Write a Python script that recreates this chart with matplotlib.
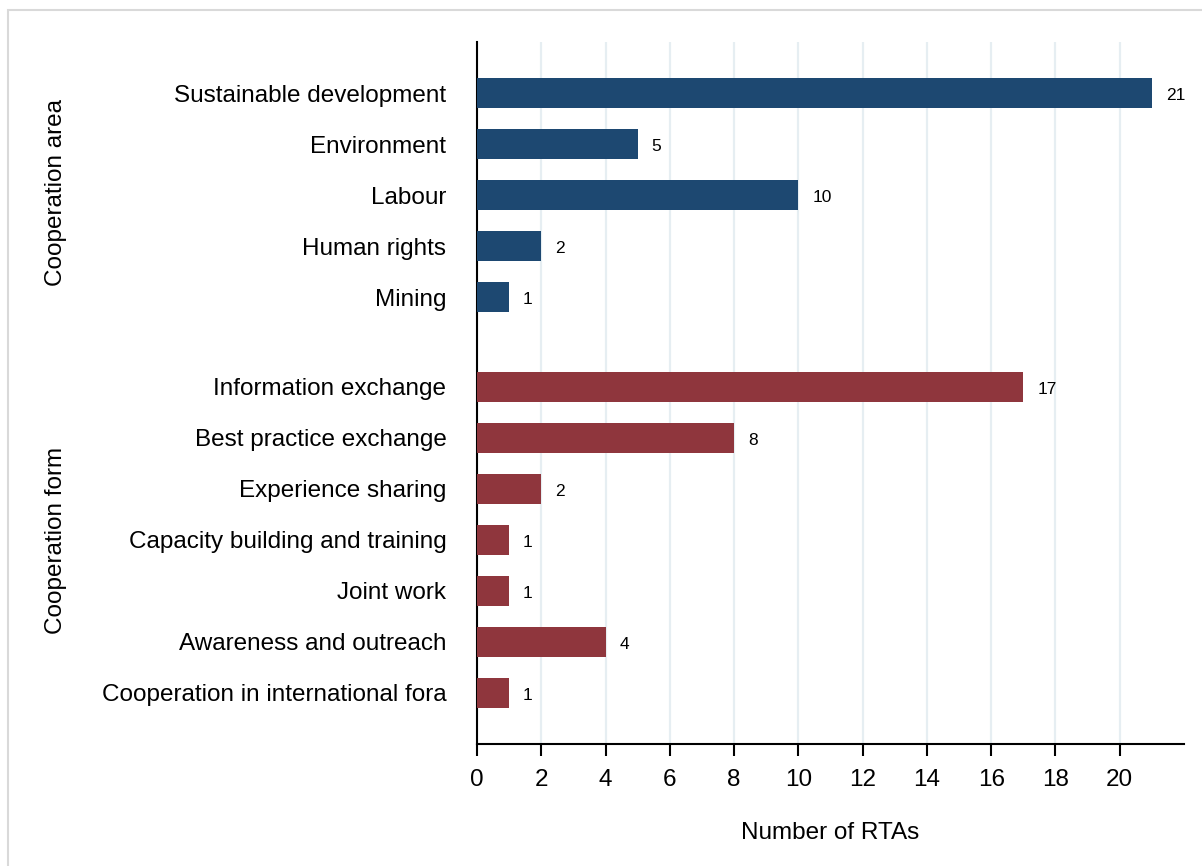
import matplotlib.pyplot as plt
import numpy as np
from matplotlib.patches import Rectangle

plt.rcParams['font.family'] = ['Liberation Sans', 'DejaVu Sans']

# Areas and forms of cooperation in RTAs
areas = ['Sustainable development', 'Environment', 'Labour', 'Human rights', 'Mining']
areas_n = [21, 5, 10, 2, 1]

forms = ['Information exchange', 'Best practice exchange', 'Experience sharing',
         'Capacity building and training', 'Joint work', 'Awareness and outreach',
         'Cooperation in international fora']
forms_n = [17, 8, 2, 1, 1, 4, 1]

cor_area = '#1d4871'
cor_form = '#8f363d'

fig = plt.figure(figsize=(12.02, 8.66), dpi=100)
ax = fig.add_axes([477 / 1202, 1 - 744 / 866, (1184 - 477) / 1202, (744 - 42) / 866])

# posicoes: grupo de cima e grupo de baixo separados por um espaco
gap = 1.76
pos_area = np.arange(len(areas))
pos_form = np.arange(len(forms)) + len(areas) - 1 + gap

altura = 0.59
ax.barh(pos_area, areas_n, height=altura, color=cor_area, zorder=3)
ax.barh(pos_form, forms_n, height=altura, color=cor_form, zorder=3)

for p, v in zip(pos_area, areas_n):
    ax.annotate(str(v), (v, p), xytext=(10, -2), textcoords='offset points',
                va='center', ha='left', fontsize=12.5)
for p, v in zip(pos_form, forms_n):
    ax.annotate(str(v), (v, p), xytext=(10, -2), textcoords='offset points',
                va='center', ha='left', fontsize=12.5)

ax.set_yticks(list(pos_area) + list(pos_form))
ax.set_yticklabels(areas + forms, fontsize=17.5)
ax.tick_params(axis='y', length=0, pad=22)

ax.set_xlim(0, 22)
ax.set_ylim(pos_form[-1] + 1, -1)
ax.set_xticks(np.arange(0, 21, 2))
ax.tick_params(axis='x', length=8.5, width=1.5, labelsize=17.5, pad=9.5)
ax.set_xlabel('Number of RTAs', fontsize=17.5, labelpad=22)

ax.grid(axis='x', color='#e6eef2', linewidth=1.6, zorder=0)
ax.set_axisbelow(True)
for s in ['top', 'right']:
    ax.spines[s].set_visible(False)
ax.spines['left'].set_linewidth(1.5)
ax.spines['bottom'].set_linewidth(1.5)

# rotulos dos grupos
fig.text(56 / 1202, 1 - 192 / 866, 'Cooperation area', rotation=90,
         ha='center', va='center', fontsize=17.5)
fig.text(56 / 1202, 1 - 540 / 866, 'Cooperation form', rotation=90,
         ha='center', va='center', fontsize=17.5)

# moldura cinza
fig.patches.append(Rectangle((8 / 1202, -0.1), 1.2, 1 - 10 / 866 + 0.1,
                             transform=fig.transFigure, fill=False,
                             edgecolor='#d9d9d9', linewidth=1.5))

fig.savefig('out.png', dpi=100)
